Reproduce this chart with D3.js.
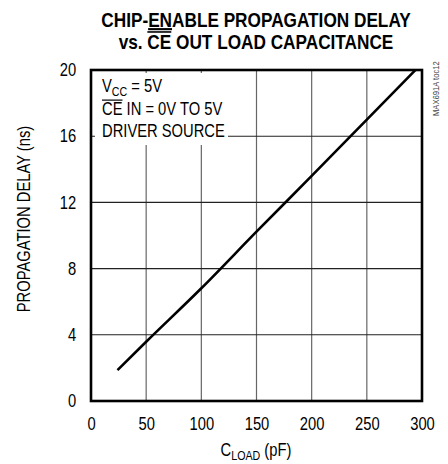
<!DOCTYPE html>
<html>
<head>
<meta charset="utf-8">
<script src="https://cdn.jsdelivr.net/npm/d3@7"></script>
<style>
  body { margin: 0; background: #fff; }
  text { font-family: "Liberation Sans", Arial, sans-serif; }
</style>
</head>
<body>
<div id="chart"></div>
<script>
// values
const cload = [24, 50, 100, 150, 200, 250, 294]
const delay = [1.87, 3.58, 6.81, 10.23, 13.6, 17.0, 20]
const xTicks = [0, 50, 100, 150, 200, 250, 300]
const yTicks = [0, 4, 8, 12, 16, 20]

const width = 448, height = 464
const margin = {top: 70, right: 26, bottom: 63, left: 91}
const squeeze = 0.82   // reference uses a narrow face

const svg = d3.select("#chart")
  .append("svg")
    .attr("width", width)
    .attr("height", height)

const x = d3.scaleLinear().domain([0, 300]).range([margin.left, width - margin.right])
const y = d3.scaleLinear().domain([0, 20]).range([height - margin.bottom, margin.top])

// text placed in a horizontally squeezed group
function label(px, py, extra = "") {
  return svg.append("g")
    .attr("transform", `translate(${px}, ${py}) ${extra} scale(${squeeze}, 1)`)
    .append("text")
}

// bar over characters [from, to]; text baseline is at 0 in its group
function overline(txt, from, to, fs, w) {
  const node = txt.node()
  const a = node.getExtentOfChar(from), b = node.getExtentOfChar(to)
  const yy = -0.716 * fs - 2
  d3.select(node.parentNode).append("line")
    .attr("x1", a.x).attr("x2", b.x + b.width)
    .attr("y1", yy).attr("y2", yy)
    .style("stroke", "#000")
    .style("stroke-width", w)
}

// grid
svg.append("g")
  .selectAll("line")
  .data(xTicks.slice(1, -1))
  .join("line")
    .attr("x1", d => x(d)).attr("x2", d => x(d))
    .attr("y1", y(0)).attr("y2", y(20))
    .style("stroke", "#666")
    .style("stroke-width", 1.2)

svg.append("g")
  .selectAll("line")
  .data(yTicks.slice(1, -1))
  .join("line")
    .attr("x1", x(0)).attr("x2", x(300))
    .attr("y1", d => y(d)).attr("y2", d => y(d))
    .style("stroke", "#222")
    .style("stroke-width", 1.1)

// white box behind the conditions text
svg.append("rect")
  .attr("x", x(0) + 4)
  .attr("y", y(20) + 3)
  .attr("width", 133)
  .attr("height", 72)
  .style("fill", "#fff")

// curve
const line = d3.line()
  .x((d, i) => x(cload[i]))
  .y(d => y(d))
  .curve(d3.curveMonotoneX)

svg.append("path")
  .datum(delay)
  .attr("d", line)
  .style("fill", "none")
  .style("stroke", "#000")
  .style("stroke-width", 2.6)

// frame
svg.append("rect")
  .attr("x", x(0)).attr("y", y(20))
  .attr("width", x(300) - x(0))
  .attr("height", y(0) - y(20))
  .style("fill", "none")
  .style("stroke", "#000")
  .style("stroke-width", 2.6)

// axes via d3 axis, domain removed
const xAxis = svg.append("g")
  .attr("transform", `translate(0, ${y(0)})`)
  .call(d3.axisBottom(x).tickValues(xTicks).tickSize(0).tickPadding(16))
xAxis.select(".domain").remove()
xAxis.selectAll("text")
  .attr("transform", `scale(${squeeze}, 1)`)
  .style("font-size", "18px")
  .style("font-family", null)
  .attr("fill", "#000")

const yAxis = svg.append("g")
  .attr("transform", `translate(${x(0)}, 0)`)
  .call(d3.axisLeft(y).tickValues(yTicks).tickSize(0).tickPadding(18))
yAxis.select(".domain").remove()
yAxis.selectAll("text")
  .attr("transform", `scale(${squeeze}, 1)`)
  .style("font-size", "18px")
  .style("font-family", null)
  .attr("fill", "#000")

// title
const t1 = label(256, 27)
  .attr("text-anchor", "middle")
  .style("font-weight", "bold")
  .style("font-size", "21px")
t1.append("tspan").text("CHIP-")
t1.append("tspan").text("EN").style("text-decoration", "underline")
t1.append("tspan").text("ABLE PROPAGATION DELAY")

const t2 = label(256, 49)
  .attr("text-anchor", "middle")
  .style("font-weight", "bold")
  .style("font-size", "21px")
  .text("vs. CE OUT LOAD CAPACITANCE")
overline(t2, 4, 5, 21, 1.6)

// conditions
const c1 = label(102, 92).style("font-size", "18px")
c1.append("tspan").text("V")
c1.append("tspan").text("CC").style("font-size", "13px").attr("dy", 4)
c1.append("tspan").text(" = 5V").attr("dy", -4)

const c2 = label(102, 115).style("font-size", "18px")
  .text("CE IN = 0V TO 5V")
overline(c2, 0, 1, 18, 1.2)

label(102, 137).style("font-size", "18px").text("DRIVER SOURCE")

// axis titles
const xt = label(256, 456)
  .attr("text-anchor", "middle")
  .style("font-size", "18px")
xt.append("tspan").text("C")
xt.append("tspan").text("LOAD").style("font-size", "13px").attr("dy", 4)
xt.append("tspan").text(" (pF)").attr("dy", -4)

label(30, 219, "rotate(-90)")
  .attr("text-anchor", "middle")
  .style("font-size", "18px")
  .text("PROPAGATION DELAY (ns)")

// part label
svg.append("text")
  .attr("transform", "translate(439, 116) rotate(-90) scale(0.85, 1)")
  .style("font-size", "9px")
  .style("fill", "#444")
  .text("MAX691A toc12")
</script>
</body>
</html>
